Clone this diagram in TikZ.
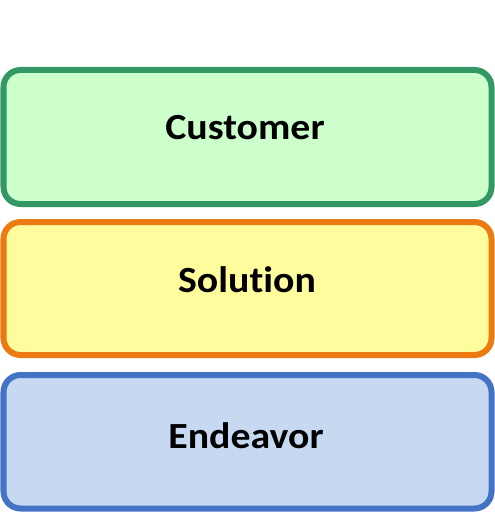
\documentclass[tikz,border=0pt]{standalone}
\usepackage{fontspec}
\setmainfont{Carlito}[Ligatures={NoCommon}]
\definecolor{gfill}{RGB}{204,255,204}
\definecolor{gline}{RGB}{52,152,100}
\definecolor{ofill}{RGB}{255,252,158}
\definecolor{oline}{RGB}{236,122,18}
\definecolor{bfill}{RGB}{198,217,241}
\definecolor{bline}{RGB}{68,114,196}
\newcommand{\stretchlbl}[1]{\scalebox{1.08}[1]{#1}}
\tikzset{
  layer/.style={line width=6bp, rounded corners=17bp},
  lbl/.style={font=\bfseries\fontsize{37}{42}\selectfont, text=black, inner sep=0pt}
}
\begin{document}
\begin{tikzpicture}[x=1bp,y=-1bp]
\useasboundingbox (0,0) rectangle (495,512);
\draw[layer, draw=gline, fill=gfill] (3.5,70) rectangle (491.5,204);
\draw[layer, draw=oline, fill=ofill] (3.5,222) rectangle (491.5,355);
\draw[layer, draw=bline, fill=bfill] (3.5,375) rectangle (491.5,508.5);
\node[lbl] (c) at (245,128) {\stretchlbl{Customer}};
\node[lbl] (s) at (247,280) {\stretchlbl{Solution}};
\node[lbl] (e) at (246,436) {\stretchlbl{Endeavor}};
\end{tikzpicture}
\end{document}
